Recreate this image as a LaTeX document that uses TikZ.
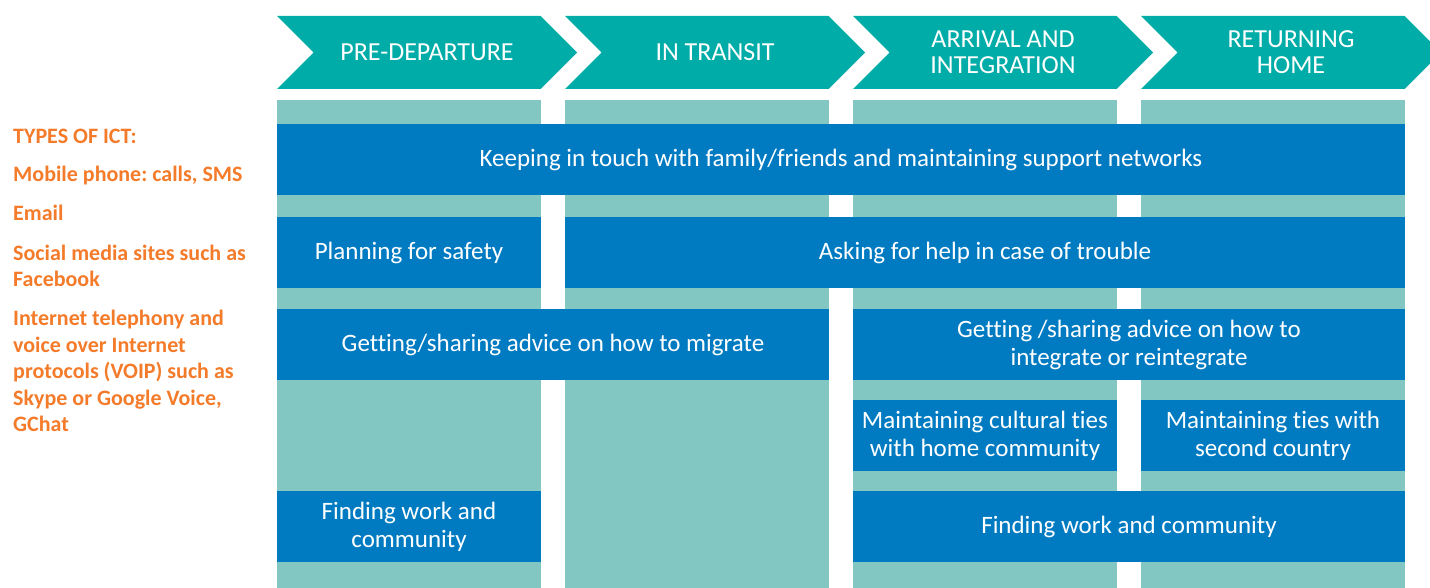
\documentclass[tikz,border=0pt]{standalone}
\usepackage{fontspec}
\setmainfont{Carlito}[Ligatures=NoCommon]
\usetikzlibrary{shapes,positioning,calc}
\usepackage{xcolor}
\definecolor{chevteal}{RGB}{0,172,167}
\definecolor{barteal}{RGB}{131,199,194}
\definecolor{boxblue}{RGB}{0,123,194}
\definecolor{ictorange}{RGB}{243,123,42}
\frenchspacing

\begin{document}
\begin{tikzpicture}[x=1pt,y=-1pt]

    \tikzstyle{phase}=[signal, signal from=west, signal to=east, fill=chevteal, text=white, minimum height=73pt, minimum width=300pt, inner sep=0pt, outer sep=0pt, align=center, font=\fontsize{26}{26}\selectfont];
    \tikzstyle{bar}=[fill=barteal, rectangle, anchor=north west, minimum width=264pt, minimum height=488pt, inner sep=0pt, outer sep=0pt];
    \tikzstyle{act}=[fill=boxblue, rectangle, text=white, anchor=north west, minimum height=71pt, inner sep=0pt, outer sep=0pt, align=center, font=\fontsize{25}{28}\selectfont];
    \tikzstyle{ict}=[text=ictorange, anchor=west, align=left, inner sep=0pt, font=\bfseries\fontsize{22}{26.5}\selectfont];

    \clip (0,0) rectangle (1430,588);

    \begin{scope}
      % phases
      \foreach \x/\name/\txt in {277/pre/PRE-DEPARTURE, 565/transit/IN TRANSIT, 853/arrival/{ARRIVAL AND\\INTEGRATION}, 1141/return/{RETURNING\\HOME}}
        \node (\name) [phase] at (\x+150,52.5) {\txt};

      % columns
      \foreach \x [count=\i] in {277,565,853,1141}
        \node (col\i) [bar] at (\x,100) {};

      \node (keep) [act, minimum width=1128pt] at (277,124) {Keeping in touch with family/friends and maintaining support networks};

      \node (plan) [act, minimum width=264pt] at (277,217) {Planning for safety};
      \node (help) [act, minimum width=840pt, right=24pt of plan] {Asking for help in case of trouble};

      \node (advmig) [act, minimum width=552pt] at (277,309) {Getting/sharing advice on how to migrate};
      \node (advint) [act, minimum width=552pt, right=24pt of advmig] {Getting /sharing advice on how to\\integrate or reintegrate};

      \node (culture) [act, minimum width=264pt] at (853,400) {Maintaining cultural ties\\with home community};
      \node (second) [act, minimum width=264pt, right=24pt of culture] {Maintaining ties with\\second country};

      \node (work1) [act, minimum width=264pt] at (277,491) {Finding work and\\community};
      \node (work2) [act, minimum width=552pt, right=312pt of work1] {Finding work and community};

      % types of ict
      \node (ict0) [ict] at (13,136) {TYPES OF ICT:};
      \node (ict1) [ict] at (13,176) {Mobile phone: calls, SMS};
      \node (ict2) [ict] at (13,213) {Email};
      \node (ict3) [ict] at (13,266) {Social media sites such as\\Facebook};
      \node (ict4) [ict] at (13,371) {Internet telephony and\\voice over Internet\\protocols (VOIP) such as\\Skype or Google Voice,\\GChat};
    \end{scope}
   \end{tikzpicture}
\end{document}
